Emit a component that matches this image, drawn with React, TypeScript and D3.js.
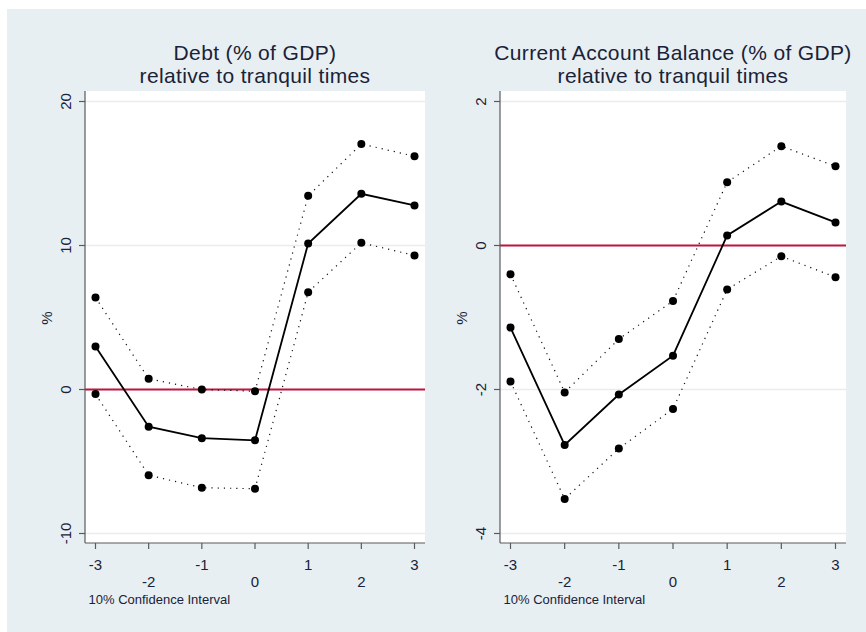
import React from "react";
import * as d3 from "d3";

// Event window (years relative to crisis)
const periods = [-3, -2, -1, 0, 1, 2, 3];

// Debt (% of GDP) relative to tranquil times
const debtMean = [2.99, -2.58, -3.38, -3.53, 10.14, 13.59, 12.78];
const debtUpper = [6.39, 0.74, 0.0, -0.12, 13.45, 17.05, 16.2];
const debtLower = [-0.32, -5.95, -6.82, -6.89, 6.76, 10.19, 9.31];
const debtTicks = [-10, 0, 10, 20];

// Current account balance (% of GDP) relative to tranquil times
const caMean = [-1.14, -2.77, -2.07, -1.53, 0.14, 0.61, 0.32];
const caUpper = [-0.4, -2.04, -1.3, -0.77, 0.88, 1.38, 1.1];
const caLower = [-1.89, -3.52, -2.82, -2.27, -0.61, -0.15, -0.44];
const caTicks = [-4, -2, 0, 2];

const FONT = "Arial, 'Liberation Sans', sans-serif";
const BG = "#e8eff2";
const TEXT = "#1a2238";

interface PanelProps {
  left: number;
  width: number;
  title: string[];
  mean: number[];
  upper: number[];
  lower: number[];
  ticks: number[];
}

const top = 91;
const bottom = 543;

const Panel: React.FC<PanelProps> = ({ left, width, title, mean, upper, lower, ticks }) => {
  const pad = 10.5;
  const x = d3.scaleLinear()
    .domain([-3, 3])
    .range([left + pad, left + width - pad]);
  const [lo, hi] = d3.extent(ticks) as [number, number];
  const y = d3.scaleLinear().domain([lo, hi]).range([533.5, 101.5]);

  const line = d3.line<number>()
    .x((_, i) => x(periods[i]))
    .y(d => y(d));

  const cx = left + width / 2;

  return (
    <g>
      {/* two-line title */}
      {title.map((t, i) => (
        <text key={i} x={cx} y={60 + i * 22.5} textAnchor="middle" fontSize={21}
          letterSpacing={0.35} fill={TEXT} fontFamily={FONT}>{t}</text>
      ))}

      {/* plot region */}
      <rect x={left} y={top} width={width} height={bottom - top} fill="#ffffff" />

      {/* gridlines */}
      {ticks.map(t => (
        <line key={t} x1={left} x2={left + width} y1={y(t)} y2={y(t)}
          stroke="#e6eef0" strokeWidth={1.5} />
      ))}

      {/* zero reference line */}
      <line x1={left} x2={left + width} y1={y(0)} y2={y(0)}
        stroke="#c2143e" strokeWidth={2} />

      {/* confidence bands */}
      {[upper, lower].map((s, k) => (
        <path key={k} d={line(s) || ""} fill="none" stroke="#111"
          strokeWidth={1.2} strokeDasharray="1.2,5" />
      ))}

      {/* point estimate */}
      <path d={line(mean) || ""} fill="none" stroke="#000" strokeWidth={1.8} />

      {[mean, upper, lower].map((s, k) =>
        s.map((v, i) => (
          <circle key={`${k}-${i}`} cx={x(periods[i])} cy={y(v)} r={4} fill="#000" />
        ))
      )}

      {/* y axis */}
      <line x1={left} x2={left} y1={top} y2={bottom} stroke="#5a5a5a" strokeWidth={1.2} />
      {ticks.map(t => (
        <g key={t}>
          <line x1={left - 6} x2={left} y1={y(t)} y2={y(t)} stroke="#5a5a5a" strokeWidth={1.2} />
          <text transform={`translate(${left - 14},${y(t)}) rotate(-90)`} textAnchor="middle"
            fontSize={15} fill={TEXT} fontFamily={FONT}>{t}</text>
        </g>
      ))}
      <text transform={`translate(${left - 33},318) rotate(-90)`} textAnchor="middle"
        fontSize={15} fill={TEXT} fontFamily={FONT}>%</text>

      {/* x axis */}
      <line x1={left} x2={left + width} y1={bottom} y2={bottom} stroke="#5a5a5a" strokeWidth={1.2} />
      {periods.map((p, i) => (
        <g key={p}>
          <line x1={x(p)} x2={x(p)} y1={bottom} y2={bottom + 6} stroke="#5a5a5a" strokeWidth={1.2} />
          <text x={x(p)} y={i % 2 === 0 ? 569.5 : 586.5} textAnchor="middle"
            fontSize={15} fill={TEXT} fontFamily={FONT}>{p}</text>
        </g>
      ))}
      <text x={left + 3.5} y={604} fontSize={13} fill={TEXT} fontFamily={FONT}>
        10% Confidence Interval
      </text>
    </g>
  );
};

export default function App() {
  return (
    <div style={{ position: "absolute", left: 0, top: 0 }}>
      <svg width={866} height={632} style={{ display: "block", background: "#fff" }}>
        <rect x={7} y={9} width={859} height={623} fill={BG} />
        <Panel left={85} width={340} title={["Debt (% of GDP)", "relative to tranquil times"]}
          mean={debtMean} upper={debtUpper} lower={debtLower} ticks={debtTicks} />
        <Panel left={500} width={346}
          title={["Current Account Balance (% of GDP)", "relative to tranquil times"]}
          mean={caMean} upper={caUpper} lower={caLower} ticks={caTicks} />
      </svg>
    </div>
  );
}
